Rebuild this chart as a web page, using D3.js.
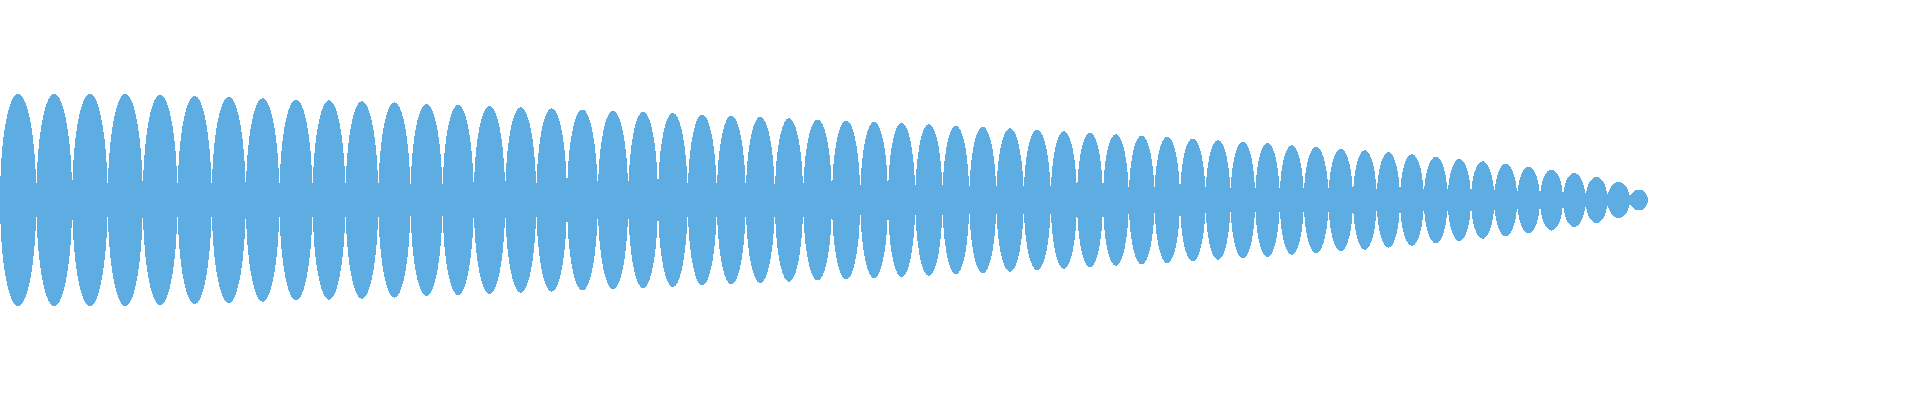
<!DOCTYPE html>
<html>
<head>
<meta charset="utf-8">
<script src="https://cdn.jsdelivr.net/npm/d3@7"></script>
<style>
	html, body { margin: 0; padding: 0; background: #fff; }
	#wave { width: 1920px; height: 400px; }
</style>
</head>
<body>
<div id="wave"></div>
<script>
// Lobe boundaries along the time axis (one lobe between each pair).
const boundaries = [0, 36.3, 72.2, 107.7, 142.8, 177.5, 211.7, 245.8, 279.4, 312.6,
	345.5, 378.3, 410.5, 442.5, 473.8, 505.2, 536.3, 567, 597.8, 628.3,
	658, 687.7, 716.8, 745.8, 774.8, 803.2, 832, 860.3, 888, 915.3,
	942.5, 969.3, 996.3, 1023.7, 1050.7, 1077, 1103, 1128.8, 1154.5, 1180,
	1205.5, 1230.5, 1255.2, 1279.7, 1303.8, 1328.5, 1353, 1376.7, 1400, 1423.8,
	1447.7, 1471, 1494.3, 1517.2, 1540, 1563, 1585.5, 1607.5, 1629.8, 1648];

// Peak amplitude of each lobe.
const peaks = [106.2, 106.2, 106.2, 106.2, 105.3, 104.2, 103.2, 101.8, 100.5, 99.7,
	98.7, 97.7, 96.2, 95.2, 94.2, 92.8, 91.7, 90.5, 89.2, 88.2,
	87, 85.5, 84.5, 83.2, 81.8, 80.5, 79.5, 78.2, 77.2, 75.8,
	74.2, 73.2, 71.7, 70.2, 68.7, 67.3, 65.8, 64.5, 63.2, 61.5,
	59.7, 58.3, 57, 54.7, 53.3, 51.3, 49.7, 47.8, 45.8, 43.3,
	41.2, 38.8, 36.2, 33.3, 30.5, 27, 23, 18, 10.5];

// Amplitude at the neck between lobes (at each boundary).
const necks = [17, 17, 17, 17, 17, 17, 17, 17, 17, 17,
	17, 17, 16, 16, 16, 16, 17, 18, 19, 19,
	18, 17, 16, 16, 16, 15, 15, 15, 15, 15,
	15, 14, 14, 14, 14, 14, 14, 13, 13, 13,
	13, 12, 12, 12, 12, 12, 12, 11, 11, 11,
	11, 10, 10, 9, 9, 8, 7, 6, 5, 2];

const lobes = peaks.map((p, i) => ({start: boundaries[i], end: boundaries[i + 1], peak: p}));
const neckData = boundaries.map((b, i) => ({t: b, amp: necks[i]}));

function drawWave(container) {
	const bbox = d3.select(container).node().getBoundingClientRect();
	const width = bbox.width,
		height = bbox.height;

	const svg = d3.select(container)
		.append('svg')
			.attr('width', width)
			.attr('height', height);

	const x = d3.scaleLinear()
		.domain([0, 1920])
		.range([0, width]);

	const y = d3.scaleLinear()
		.domain([-200, 200])
		.range([height, 0]);

	const fill = '#5dade2';

	// Thin band running through the necks
	const band = d3.area()
		.x(d => x(d.t))
		.y0(d => y(-d.amp))
		.y1(d => y(d.amp))
		.curve(d3.curveMonotoneX);

	svg.append('path')
		.datum(neckData)
		.attr('d', band)
		.style('fill', fill)
		.attr('shape-rendering', 'crispEdges');

	// One ellipse per lobe
	svg.selectAll('ellipse')
		.data(lobes)
		.enter()
		.append('ellipse')
			.attr('cx', d => x((d.start + d.end) / 2))
			.attr('cy', y(0))
			.attr('rx', d => (x(d.end) - x(d.start)) / 2)
			.attr('ry', d => y(0) - y(d.peak))
			.style('fill', fill)
			.attr('shape-rendering', 'crispEdges');
}

drawWave('#wave');
</script>
</body>
</html>
